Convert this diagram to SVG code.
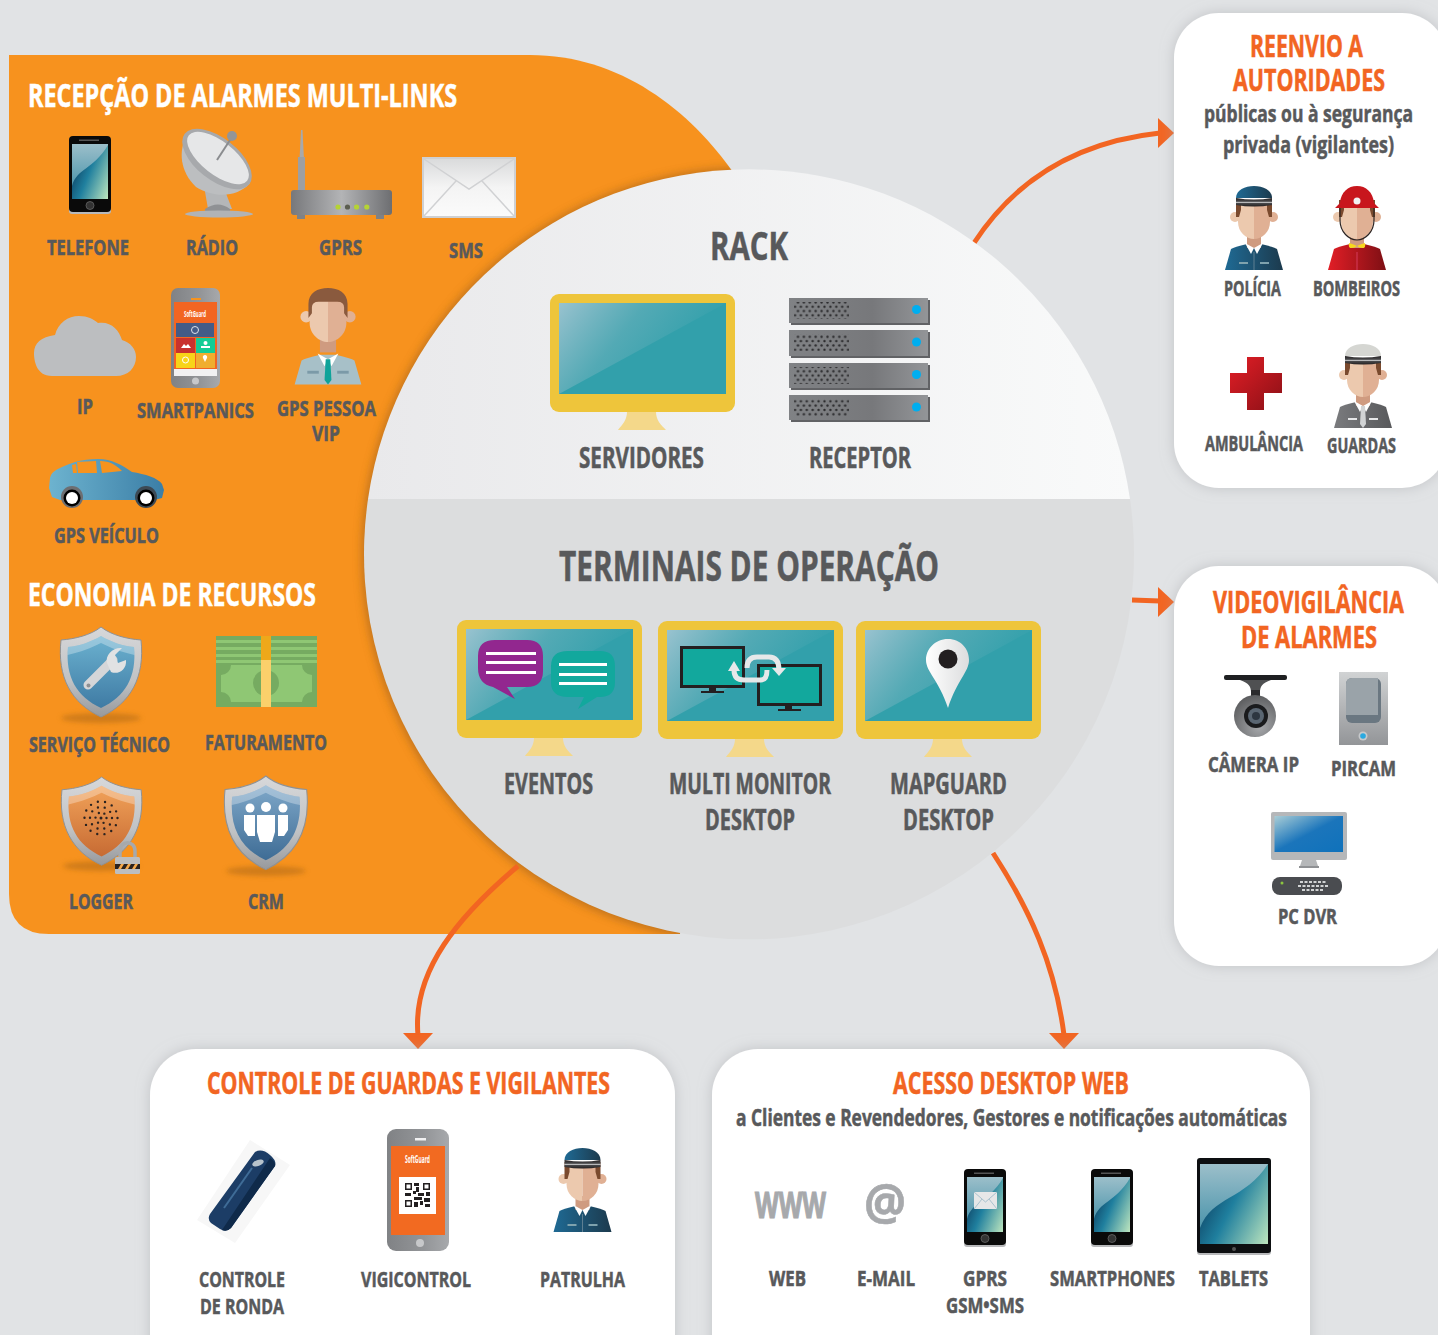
<svg xmlns="http://www.w3.org/2000/svg" width="1438" height="1335" viewBox="0 0 1438 1335">
<style>
text{font-family:"Open Sans","Liberation Sans",sans-serif;font-weight:700}
.g{fill:#58595b;stroke:#58595b;stroke-width:.55}
.o{fill:#f26522;stroke:#f26522;stroke-width:.55}
.w{fill:#fff;stroke:#fff;stroke-width:.55}
.s22{font-size:22px}.s21{font-size:21px}.s27{font-size:28px}.s24{font-size:24px}.s30{font-size:30px}.s33{font-size:33px}
.c{fill:none;stroke:#f26522;stroke-width:5}
.a{fill:#f26522}
.card{fill:#fff;filter:url(#cardS)}
</style>
<defs>
<filter id="cardS" x="-10%" y="-10%" width="120%" height="120%"><feDropShadow dx="0" dy="0" stdDeviation="7" flood-color="#a7a9ac" flood-opacity=".55"/></filter>
<linearGradient id="topG" x1="0" x2="1" y1="0" y2="0"><stop offset="0" stop-color="#e9e9eb"/><stop offset="1" stop-color="#f9fafa"/></linearGradient>
<linearGradient id="gloss" x1="0" x2=".8" y1="0" y2=".35"><stop offset="0" stop-color="#d8d8e6" stop-opacity=".62"/><stop offset=".55" stop-color="#c8ccd8" stop-opacity=".22"/><stop offset="1" stop-color="#c8ccd8" stop-opacity=".04"/></linearGradient>
<linearGradient id="scr1" x1="0" x2="0" y1="0" y2="1"><stop offset="0" stop-color="#9cbfca"/><stop offset=".6" stop-color="#5f9fb3"/><stop offset="1" stop-color="#3e8aa3"/></linearGradient>
<linearGradient id="scr2" x1="0" x2="1" y1=".35" y2=".95"><stop offset="0" stop-color="#0c3c5e"/><stop offset=".42" stop-color="#1f7f9e"/><stop offset="1" stop-color="#b8e2bd"/></linearGradient>
<linearGradient id="grey" x1="0" x2="1" y1="0" y2="0"><stop offset="0" stop-color="#77787b"/><stop offset=".5" stop-color="#b3b4b6"/><stop offset="1" stop-color="#6d6e71"/></linearGradient>
<linearGradient id="srv" x1="0" x2="1" y1="0" y2="0"><stop offset="0" stop-color="#808285"/><stop offset=".6" stop-color="#77787b"/><stop offset="1" stop-color="#939598"/></linearGradient>
<linearGradient id="phoneG" x1="0" x2="1" y1="0" y2="0"><stop offset="0" stop-color="#808285"/><stop offset=".6" stop-color="#939598"/><stop offset="1" stop-color="#a7a9ac"/></linearGradient>
<linearGradient id="env" x1="0" x2="0" y1="0" y2="1"><stop offset="0" stop-color="#d9dadb"/><stop offset=".5" stop-color="#f4f4f4"/><stop offset="1" stop-color="#fbfbfb"/></linearGradient>
<linearGradient id="car" x1="0" x2="1" y1="0" y2="0"><stop offset="0" stop-color="#6db3cf"/><stop offset="1" stop-color="#3b7ea6"/></linearGradient>
<linearGradient id="silver" x1="0" x2="0" y1="0" y2="1"><stop offset="0" stop-color="#d7d8da"/><stop offset=".6" stop-color="#c0c2c4"/><stop offset="1" stop-color="#97999c"/></linearGradient>
<linearGradient id="shB" x1="0" x2="0" y1="0" y2="1"><stop offset="0" stop-color="#6cb2d0"/><stop offset="1" stop-color="#3f7ba4"/></linearGradient>
<linearGradient id="shO" x1="0" x2="0" y1="0" y2="1"><stop offset="0" stop-color="#f2a35a"/><stop offset="1" stop-color="#c76b33"/></linearGradient>
<linearGradient id="shN" x1="0" x2="0" y1="0" y2="1"><stop offset="0" stop-color="#7fa8c9"/><stop offset="1" stop-color="#3e6c95"/></linearGradient>
<linearGradient id="navy" x1="0" x2="1" y1="0" y2="0"><stop offset="0" stop-color="#1f6a94"/><stop offset="1" stop-color="#1c3a4d"/></linearGradient>
<linearGradient id="red" x1="0" x2="1" y1="0" y2="0"><stop offset="0" stop-color="#e21e26"/><stop offset="1" stop-color="#7e0f14"/></linearGradient>
<linearGradient id="redD" x1="0" x2="1" y1="0" y2="1"><stop offset="0" stop-color="#e21e26"/><stop offset="1" stop-color="#8a1016"/></linearGradient>
<linearGradient id="dgrey" x1="0" x2="1" y1="0" y2="0"><stop offset="0" stop-color="#7a7b7e"/><stop offset="1" stop-color="#58595b"/></linearGradient>
<linearGradient id="band" x1="0" x2="0" y1="0" y2="1"><stop offset="0" stop-color="#231f20"/><stop offset=".4" stop-color="#4a4a4c"/><stop offset=".5" stop-color="#e6e7e8"/><stop offset=".6" stop-color="#4a4a4c"/><stop offset="1" stop-color="#231f20"/></linearGradient>
<linearGradient id="pir" x1="0" x2="0" y1="0" y2="1"><stop offset="0" stop-color="#d1d3d4"/><stop offset="1" stop-color="#939598"/></linearGradient>
<linearGradient id="blueS" x1="0" x2="1" y1="0" y2="1"><stop offset="0" stop-color="#a9cdd6"/><stop offset=".5" stop-color="#1b75bb"/><stop offset="1" stop-color="#0f72bb"/></linearGradient>
<linearGradient id="pin" x1="0" x2="1" y1="0" y2="0"><stop offset="0" stop-color="#fff"/><stop offset="1" stop-color="#dcddde"/></linearGradient>
<radialGradient id="camG" cx=".6" cy=".75" r=".8"><stop offset="0" stop-color="#a7a9ac"/><stop offset="1" stop-color="#58595b"/></radialGradient>
<filter id="blur4" x="-5%" y="-5%" width="110%" height="110%"><feGaussianBlur stdDeviation="5"/></filter>
<filter id="blur2" x="-30%" y="-100%" width="160%" height="300%"><feGaussianBlur stdDeviation="2.500"/></filter>
<clipPath id="orangeClip"><path d="M9,55H530C620,55 690,110 735,175L680,934H49Q9,934 9,894Z"/></clipPath>
<pattern id="holes" width="5.900" height="8.600" patternUnits="userSpaceOnUse"><circle cx="1.500" cy="1.500" r="1.200" fill="#2b2b2d"/><circle cx="4.400" cy="5.800" r="1.200" fill="#2b2b2d"/></pattern>

<g id="mon">
<path d="M77,118C77,126 72,131 68,136H116C111,131 106,126 106,118Z" fill="#f4d88a"/>
<rect width="185" height="118" rx="9" fill="#eec53b"/>
<rect x="9" y="9" width="167" height="91" fill="#32a0ab"/>
<polygon points="9,9 176,9 9,100" fill="url(#gloss)"/>
</g>

<g id="phone">
<rect x="0" y="1" width="42" height="77" rx="3" fill="#b8b9bb"/>
<rect x="0" y="0" width="42" height="76" rx="4" fill="#0a0a0a"/>
<rect x="3" y="8" width="36" height="55" fill="url(#scr1)"/>
<path d="M3,63V50C8,32 24,34 39,9V63Z" fill="url(#scr2)"/>
<rect x="10" y="3.500" width="20" height="1.500" fill="#555"/>
<circle cx="21" cy="69.500" r="4" fill="#333" stroke="#666" stroke-width=".8"/>
</g>

<g id="head">
<rect x="-7" y="48" width="14" height="14" fill="#cf9b80"/>
<circle cx="-19" cy="31" r="5" fill="#ecc9ae"/><circle cx="19" cy="31" r="5" fill="#e0b094"/>
<path d="M0,16H-16V36C-16,46 -8,53 0,53Z" fill="#ecc9ae"/>
<path d="M0,16H16V36C16,46 8,53 0,53Z" fill="#e0b094"/>
</g>
<g id="hairS">
<path d="M-18,14H-13V24L-15,31H-18Z" fill="#7a4a2e"/><path d="M18,14H13V24L15,31H18Z" fill="#7a4a2e"/>
</g>
<path id="body" d="M-29,84L-23,63Q-20,61 -7,58H7Q20,61 23,63L29,84Z"/>
<g id="collar"><path d="M-9,57L0,62L-3,68Z" fill="#fff"/><path d="M9,57L0,62L3,68Z" fill="#fff"/></g>
<g id="capBand"><path d="M-18,12Q0,15 18,12V19Q0,22 -18,19Z" fill="url(#band)"/></g>

<g id="shield">
<path d="M42,0C52,8 68,12 82,13C86,50 72,76 42,90C12,76 -2,50 2,13C16,12 32,8 42,0Z" fill="url(#silver)" stroke="#8f9194" stroke-width="1"/>
</g>
<path id="shieldIn" d="M42,9C52,15 64,19 75,20C78,50 66,70 42,81C18,70 6,50 9,20C20,19 32,15 42,9Z"/>
<path id="shieldHi" d="M42,9C52,15 64,19 75,20L75.500,28C62,25 52,21 42,16C32,21 22,25 8.500,28L9,20C20,19 32,15 42,9Z" fill="#fff" opacity=".3"/>
</defs>

<rect width="1438" height="1335" fill="#e1e3e5"/>

<g id="panel-recepcao"><path d="M9,55H530C620,55 690,110 735,175L680,934H49Q9,934 9,894Z" fill="#f7921e"/></g>

<g id="panel-shadow" clip-path="url(#orangeClip)"><circle cx="749" cy="555" r="387" fill="#a9661a" opacity=".75" filter="url(#blur4)"/></g>

<g id="connectors">
<path class="c" d="M974,243C1015,180 1075,142 1160,133"/>
<polygon class="a" points="1158,118 1174,133 1158,148"/>
<path class="c" d="M1132,600L1160,601"/>
<polygon class="a" points="1158,587 1174,602 1158,617"/>
<path class="c" d="M518,866C460,915 412,970 418,1035"/>
<polygon class="a" points="403,1033 433,1033 418,1049"/>
<path class="c" d="M993,853C1030,910 1055,965 1064,1035"/>
<polygon class="a" points="1049,1033 1079,1033 1064,1049"/>
</g>

<g id="circle">
<path d="M368,499A385,385 0 0 1 1130,499Z" fill="url(#topG)"/>
<path d="M368,499A385,385 0 1 0 1130,499Z" fill="#dcddde"/>
</g>

<text class="w s33" transform="translate(28,107) scale(.68,1)" textLength="631" lengthAdjust="spacingAndGlyphs">RECEPÇÃO DE ALARMES MULTI-LINKS</text>

<g id="telefone"><use href="#phone" x="69" y="136"/><text class="g s22" transform="translate(47,255) scale(.68,1)" textLength="120.600" lengthAdjust="spacingAndGlyphs">TELEFONE</text></g>

<g id="radio">
<path d="M203,180L208,209H232L222,183Z" fill="#b4b6b8"/>
<path d="M205,209Q218,200 230,209V213H205Z" fill="#8f9194"/>
<ellipse cx="219" cy="214" rx="34" ry="3.500" fill="#b1b3b5"/>
<path d="M187,136C178,150 180,172 196,187C212,197 236,199 250,183Z" fill="#bcbec0"/>
<ellipse cx="217" cy="159" rx="41" ry="21" transform="rotate(38 217 159)" fill="#a7a9ac"/>
<ellipse cx="218" cy="158" rx="37" ry="16.500" transform="rotate(38 218 158)" fill="#e6e7e8"/>
<path d="M217,160L232,137" stroke="#8a8c8f" stroke-width="2"/><circle cx="232" cy="136" r="5" fill="#939598"/>
<text class="g s22" transform="translate(186,255) scale(.68,1)" textLength="76.500" lengthAdjust="spacingAndGlyphs">RÁDIO</text></g>

<g id="gprs">
<polygon points="299.500,160 301,130 302.500,130 304,160" fill="#a7a9ac"/>
<rect x="298" y="157" width="7" height="33" fill="#9d9fa2"/>
<rect x="297" y="214" width="8" height="5" fill="#808285"/><rect x="376" y="214" width="8" height="5" fill="#808285"/>
<rect x="291" y="190" width="101" height="25" rx="3" fill="url(#grey)"/>
<circle cx="338" cy="207" r="2.600" fill="#b5d334"/><circle cx="347.500" cy="207" r="2.600" fill="#5c5e50"/><circle cx="356.600" cy="207" r="2.600" fill="#b5d334"/><circle cx="366.800" cy="207" r="2.600" fill="#b5d334"/>
<text class="g s22" transform="translate(319,255) scale(.68,1)" textLength="63.200" lengthAdjust="spacingAndGlyphs">GPRS</text></g>

<g id="sms">
<rect x="423" y="158" width="92" height="59" fill="url(#env)" stroke="#cfd0d2" stroke-width="2"/>
<path d="M424,159L469,189L514,159M424,216L456,181M514,216L482,181" fill="none" stroke="#d0d1d3" stroke-width="1.500"/>
<text class="g s22" transform="translate(449,258) scale(.68,1)" textLength="50" lengthAdjust="spacingAndGlyphs">SMS</text></g>

<g id="ip">
<path d="M52,376C36,376 34,360 34,353C34,343 41,337 55,335C58,323 68,316 79,316C88,316 93,319 98,323C111,321 119,330 122,340C131,343 136,349 136,357C136,368 128,376 116,376Z" fill="#bcbec0"/>
<text class="g s22" transform="translate(77,414) scale(.68,1)" textLength="23.500" lengthAdjust="spacingAndGlyphs">IP</text></g>

<g id="smartpanics">
<rect x="171" y="288" width="49" height="100" rx="7" fill="url(#phoneG)"/>
<rect x="191" y="298" width="10" height="2" fill="#f7931e"/>
<rect x="174" y="302" width="43" height="74" fill="#f26522"/>
<text transform="translate(184,317) scale(.5,1)" font-size="9" textLength="44" lengthAdjust="spacingAndGlyphs" fill="#fff">SoftGuard</text>
<rect x="176" y="323" width="38" height="14" fill="#435b87"/>
<circle cx="195" cy="330" r="3.500" fill="none" stroke="#dfe3ea" stroke-width="1"/>
<rect x="176" y="338" width="19" height="15" fill="#c8322e"/>
<rect x="196" y="338" width="19" height="15" fill="#12cc96"/>
<rect x="176" y="353" width="19" height="15" fill="#f8d418"/>
<rect x="196" y="353" width="19" height="15" fill="#f0ae2f"/>
<g fill="#fff"><path d="M181,348l3,-4 2,2 2,-2 3,4Z"/><circle cx="205.500" cy="343" r="2"/><rect x="201" y="346" width="9" height="2"/><circle cx="185.500" cy="360" r="3" fill="none" stroke="#fff"/><path d="M205,362l-2,-4a2.200,2.200 0 1 1 4,0Z"/></g>
<rect x="174" y="369" width="43" height="7" fill="#f1f1f2"/>
<circle cx="195.500" cy="381" r="3.500" fill="#c7c8ca"/>
<text class="g s22" transform="translate(137,418) scale(.68,1)" textLength="172" lengthAdjust="spacingAndGlyphs">SMARTPANICS</text></g>

<g id="gps-pessoa">
<g transform="translate(328,288) scale(1.15)">
<use href="#head" y="-6"/>
<path d="M-17,26V14C-17,4 -9,0 0,0C9,0 17,4 17,14V26L14,22V17Q14,12 8,12H-8Q-14,12 -14,17V22Z" fill="#8a5a3e"/>
<use href="#body" fill="#a7c0c8"/>
<use href="#collar"/>
<path d="M-2,62H2L3,80L0,84L-3,80Z" fill="#0fa39a"/>
<rect x="-18" y="72" width="10" height="2.500" fill="#7b9aa8"/><rect x="8" y="72" width="10" height="2.500" fill="#7b9aa8"/>
</g>
<text class="g s22" transform="translate(277,416) scale(.68,1)" textLength="145.600" lengthAdjust="spacingAndGlyphs">GPS PESSOA</text>
<text class="g s22" transform="translate(312,441) scale(.68,1)" textLength="41.200" lengthAdjust="spacingAndGlyphs">VIP</text></g>

<g id="gps-veiculo">
<path d="M50,478C51,473 55,470 62,467C72,463 80,459 98,459C112,459 122,465 132,472C145,474 158,478 162,484L164,490L162,498L154,500H60L52,497L49,488Z" fill="url(#car)"/>
<path d="M77,462L96,461L97,473H78ZM100,461C110,461 116,465 122,471L102,473ZM72,465L76,464L77,473H73Z" fill="#f7931e"/>
<circle cx="72" cy="497" r="11" fill="#6d6e71"/><circle cx="146" cy="497" r="11" fill="#3d4a55"/>
<circle cx="72" cy="498" r="8.500" fill="#000"/><circle cx="146" cy="498" r="8.500" fill="#000"/>
<circle cx="72" cy="498" r="6" fill="#fff"/><circle cx="146" cy="498" r="6" fill="#fff"/>
<text class="g s22" transform="translate(54,543) scale(.68,1)" textLength="154.400" lengthAdjust="spacingAndGlyphs">GPS VEÍCULO</text></g>

<text class="w s33" transform="translate(28,606) scale(.68,1)" textLength="423.500" lengthAdjust="spacingAndGlyphs">ECONOMIA DE RECURSOS</text>

<g id="servico-tecnico">
<ellipse cx="101" cy="718" rx="40" ry="5" fill="#b66d16" opacity=".6" filter="url(#blur2)"/>
<g transform="translate(59,627)"><use href="#shield"/><use href="#shieldIn" fill="url(#shB)"/><use href="#shieldHi"/></g>
<path d="M88,685L113,660" stroke="#d5d6d8" stroke-width="9" stroke-linecap="round"/>
<path d="M107,663C105,655 113,647 122,648L115,655L118,663L126,660C127,670 118,675 111,672Z" fill="#e1e2e3"/>
<circle cx="88.500" cy="685.500" r="2" fill="#8d8f92"/>
<text class="g s22" transform="translate(29,752) scale(.68,1)" textLength="207.400" lengthAdjust="spacingAndGlyphs">SERVIÇO TÉCNICO</text></g>

<g id="faturamento">
<rect x="216" y="636" width="101" height="71" fill="#76ab61"/>
<rect x="216" y="640" width="101" height="3" fill="#8fc774"/><rect x="216" y="647" width="101" height="3" fill="#8fc774"/><rect x="216" y="654" width="101" height="3" fill="#8fc774"/>
<rect x="216" y="660" width="101" height="3" fill="#8fc774"/>
<rect x="221" y="665" width="91" height="37" fill="#8fc774"/>
<circle cx="266" cy="683" r="13" fill="#76ab61"/>
<path d="M221,665h10a10,10 0 0 1 -10,10ZM312,665h-10a10,10 0 0 0 10,10ZM221,702h10a10,10 0 0 0 -10,-10ZM312,702h-10a10,10 0 0 1 10,-10Z" fill="#76ab61"/>
<rect x="261" y="636" width="10" height="24" fill="#eea81a"/><rect x="261" y="660" width="10" height="47" fill="#fbd06b"/>
<text class="g s22" transform="translate(205,750) scale(.68,1)" textLength="179.400" lengthAdjust="spacingAndGlyphs">FATURAMENTO</text></g>

<g id="logger">
<ellipse cx="101" cy="866" rx="38" ry="5" fill="#b66d16" opacity=".6" filter="url(#blur2)"/>
<g transform="translate(60,777) scale(.99,.98)"><use href="#shield"/><use href="#shieldIn" fill="url(#shO)"/><use href="#shieldHi"/></g>
<g fill="none" stroke="#2b2320" stroke-width="2.400" stroke-linecap="round">
<circle cx="101" cy="818" r="5.500" stroke-dasharray="0 5.760"/>
<circle cx="101" cy="818" r="11" stroke-dasharray="0 6.910"/>
<circle cx="101" cy="818" r="16.500" stroke-dasharray="0 7.400"/>
</g><circle cx="101" cy="818" r="1.500" fill="#2b2320"/>
<path d="M120,858V851C120,840 135,840 135,851V858" fill="none" stroke="#a7a9ac" stroke-width="3.500"/>
<rect x="115" y="857" width="25" height="17" rx="1.500" fill="#bcbec0"/>
<rect x="115" y="864" width="25" height="5" fill="#2b2320"/>
<path d="M118,869l3,-5h3l-3,5ZM125,869l3,-5h3l-3,5ZM132,869l3,-5h3l-3,5Z" fill="#f5a94c"/>
<text class="g s22" transform="translate(69,909) scale(.68,1)" textLength="94.100" lengthAdjust="spacingAndGlyphs">LOGGER</text></g>

<g id="crm">
<ellipse cx="266" cy="871" rx="40" ry="5" fill="#b66d16" opacity=".6" filter="url(#blur2)"/>
<g transform="translate(223,776) scale(1.02,1.04)"><use href="#shield"/><use href="#shieldIn" fill="url(#shN)"/><use href="#shieldHi"/></g>
<g fill="#fff"><circle cx="250" cy="808" r="4.500"/><circle cx="266" cy="807" r="5"/><circle cx="283" cy="808" r="4.500"/>
<path d="M244,815H255V836H248L244,830Z"/><path d="M278,815H288V830L284,836H278Z"/><path d="M257,815H275V832L272,842H260L257,832Z"/></g>
<text class="g s22" transform="translate(248,909) scale(.68,1)" textLength="52.900" lengthAdjust="spacingAndGlyphs">CRM</text></g>

<text class="g" font-size="40" transform="translate(710,260) scale(.68,1)" textLength="114.700" lengthAdjust="spacingAndGlyphs">RACK</text>

<g id="servidores"><use href="#mon" x="550" y="294"/><text class="g s27" transform="translate(579,468) scale(.68,1)" textLength="183.800" lengthAdjust="spacingAndGlyphs">SERVIDORES</text></g>

<g id="receptor">
<g fill="#616265">
<rect x="791" y="300" width="139" height="25"/><rect x="791" y="332" width="139" height="26"/><rect x="791" y="365" width="139" height="25"/><rect x="791" y="397" width="139" height="25"/></g>
<g fill="url(#srv)">
<rect x="789" y="298" width="139" height="25"/><rect x="789" y="330" width="139" height="26"/><rect x="789" y="363" width="139" height="25"/><rect x="789" y="395" width="139" height="25"/></g>
<g fill="url(#holes)"><rect x="794" y="302" width="55" height="17"/><rect x="794" y="334" width="55" height="17"/><rect x="794" y="367" width="55" height="17"/><rect x="794" y="399" width="55" height="17"/></g>
<g fill="#00aeef"><circle cx="916.500" cy="309.500" r="4.500"/><circle cx="916.500" cy="342" r="4.500"/><circle cx="916.500" cy="374.500" r="4.500"/><circle cx="916.500" cy="407" r="4.500"/></g>
<text class="g s27" transform="translate(809,468) scale(.68,1)" textLength="150" lengthAdjust="spacingAndGlyphs">RECEPTOR</text></g>

<text class="g" font-size="42" transform="translate(559,581) scale(.68,1)" textLength="558.800" lengthAdjust="spacingAndGlyphs">TERMINAIS DE OPERAÇÃO</text>

<g id="eventos"><use href="#mon" x="457" y="620"/>
<path d="M495,640H527Q543,640 543,656V671Q543,687 527,687H507L515,699L493,687Q478,684 478,668V656Q478,640 495,640Z" fill="#92278f"/>
<path d="M568,651H600Q615,651 615,666V682Q615,697 600,697H597L578,709L584,697H568Q551,697 551,682V666Q551,651 568,651Z" fill="#12a89d"/>
<g fill="#fff"><rect x="486" y="652" width="50" height="3"/><rect x="486" y="661" width="50" height="3"/><rect x="486" y="671" width="50" height="3"/><rect x="559" y="663" width="48" height="3"/><rect x="559" y="673" width="48" height="3"/><rect x="559" y="682" width="48" height="3"/></g>
<text class="g s27" transform="translate(504,794) scale(.68,1)" textLength="130.900" lengthAdjust="spacingAndGlyphs">EVENTOS</text></g>

<g id="multi-monitor"><use href="#mon" x="658" y="621"/>
<g fill="#12a89d" stroke="#231f20" stroke-width="3"><rect x="681.500" y="647.500" width="62" height="39"/><rect x="758.500" y="665.500" width="62" height="39"/></g>
<g fill="#231f20"><rect x="709" y="688" width="7" height="4"/><rect x="701" y="691" width="23" height="2"/><rect x="785" y="706" width="7" height="4"/><rect x="778" y="709" width="23" height="2"/></g>
<g fill="none" stroke="#e6e8e9" stroke-width="5"><path d="M734,670Q734,680 744,680H761Q767,680 767,670"/><path d="M747,668Q747,657 757,657H769Q779,657 779,670"/></g>
<g fill="#e6e8e9"><polygon points="734,661 728,671 740,671"/><polygon points="779,676 772,668 786,668"/></g>
<text class="g s27" transform="translate(669,794) scale(.68,1)" textLength="238.200" lengthAdjust="spacingAndGlyphs">MULTI MONITOR</text>
<text class="g s27" transform="translate(705,830) scale(.68,1)" textLength="132.400" lengthAdjust="spacingAndGlyphs">DESKTOP</text></g>

<g id="mapguard"><use href="#mon" x="856" y="621"/>
<path d="M948,639C961,639 969,649 969,660C969,672 957,680 948,708C939,680 926,672 926,660C926,649 935,639 948,639Z" fill="url(#pin)"/>
<ellipse cx="948" cy="659" rx="9.500" ry="9.500" fill="#231f20"/>
<text class="g s27" transform="translate(890,794) scale(.68,1)" textLength="172" lengthAdjust="spacingAndGlyphs">MAPGUARD</text>
<text class="g s27" transform="translate(903,830) scale(.68,1)" textLength="133.800" lengthAdjust="spacingAndGlyphs">DESKTOP</text></g>

<g id="reenvio">
<rect class="card" x="1174" y="13" width="273" height="475" rx="45"/>
<text class="o s30" transform="translate(1250,57) scale(.68,1)" textLength="166.200" lengthAdjust="spacingAndGlyphs">REENVIO A</text>
<text class="o s30" transform="translate(1233,91) scale(.68,1)" textLength="223.500" lengthAdjust="spacingAndGlyphs">AUTORIDADES</text>
<text class="g s24" transform="translate(1204,122) scale(.68,1)" textLength="307.400" lengthAdjust="spacingAndGlyphs">públicas ou à segurança</text>
<text class="g s24" transform="translate(1223,153) scale(.68,1)" textLength="251.500" lengthAdjust="spacingAndGlyphs">privada (vigilantes)</text>
</g>

<g id="policia"><g transform="translate(1254,186)">
<use href="#body" fill="url(#navy)"/><use href="#head"/><use href="#hairS"/><use href="#collar"/>
<path d="M0,66V84" stroke="#6e8b9b" stroke-width=".8"/><rect x="-15" y="76" width="9" height="2" fill="#7fa2ad"/><rect x="6" y="76" width="9" height="2" fill="#7fa2ad"/>
<path d="M-18,12C-18,4 -9,0 0,0C9,0 18,4 18,12Z" fill="url(#navy)"/><use href="#capBand"/>
</g><text class="g s21" transform="translate(1224,296) scale(.68,1)" textLength="83.800" lengthAdjust="spacingAndGlyphs">POLÍCIA</text></g>

<g id="bombeiros"><g transform="translate(1357,186)">
<use href="#body" fill="url(#red)"/><use href="#head"/><use href="#hairS"/>
<path d="M-17,20V34C-17,46 -8,54 0,54C8,54 17,46 17,34V20" fill="none" stroke="#2b2320" stroke-width="1.200"/>
<path d="M-8,57Q-4,58 0,60Q4,58 8,57Q9,62 6,62Q2,62 0,60Q-2,62 -6,62Q-9,62 -8,57Z" fill="#f9d81d"/>
<path d="M-22,22L-17,17C-16,6 -9,0 0,0C9,0 16,6 17,17L22,22Z" fill="#c8161d"/>
<circle cx="0" cy="15" r="3.500" fill="#f1f1f2"/>
<path d="M0,66V84" stroke="#e58" stroke-width=".6"/>
</g><text class="g s21" transform="translate(1313,296) scale(.68,1)" textLength="127.900" lengthAdjust="spacingAndGlyphs">BOMBEIROS</text></g>

<g id="ambulancia">
<path d="M1247,357H1264V373H1282V393H1264V410H1247V393H1230V373H1247Z" fill="url(#redD)"/>
<text class="g s21" transform="translate(1205,451) scale(.68,1)" textLength="144.100" lengthAdjust="spacingAndGlyphs">AMBULÂNCIA</text></g>

<g id="guardas"><g transform="translate(1363,344)">
<use href="#body" fill="url(#dgrey)"/><use href="#head"/><use href="#hairS"/><use href="#collar"/>
<path d="M-2,62H2L3,80L0,84L-3,80Z" fill="#d1d3d4"/><rect x="-15" y="74" width="9" height="2" fill="#e6e7e8"/><rect x="6" y="74" width="9" height="2" fill="#e6e7e8"/>
<path d="M-18,12C-18,4 -9,0 0,0C9,0 18,4 18,12Z" fill="#d5d6d2"/><use href="#capBand"/>
</g><text class="g s21" transform="translate(1327,453) scale(.68,1)" textLength="101.500" lengthAdjust="spacingAndGlyphs">GUARDAS</text></g>

<g id="videovigilancia">
<rect class="card" x="1174" y="566" width="273" height="400" rx="45"/>
<text class="o s30" transform="translate(1213,613) scale(.68,1)" textLength="280.900" lengthAdjust="spacingAndGlyphs">VIDEOVIGILÂNCIA</text>
<text class="o s30" transform="translate(1241,648) scale(.68,1)" textLength="200" lengthAdjust="spacingAndGlyphs">DE ALARMES</text>
</g>

<g id="camera-ip">
<rect x="1224" y="675" width="63" height="5" rx="2" fill="#1f2022"/>
<path d="M1240,680H1271C1262,683 1260,687 1260,692H1251C1251,687 1249,683 1240,680Z" fill="#4f5052"/><rect x="1251" y="690" width="9" height="6" fill="#2b2b2d"/>
<circle cx="1255" cy="716" r="21" fill="url(#camG)"/>
<circle cx="1256" cy="716" r="12" fill="#1a1b1d"/><circle cx="1256" cy="716" r="8" fill="#5a6672"/><circle cx="1256" cy="716" r="4" fill="#2d3640"/>
<text class="g s22" transform="translate(1208,772) scale(.68,1)" textLength="133.800" lengthAdjust="spacingAndGlyphs">CÂMERA IP</text></g>

<g id="pircam">
<rect x="1339" y="672" width="49" height="73" fill="url(#pir)"/>
<rect x="1346" y="678" width="35" height="45" rx="6" fill="#6a7781"/>
<path d="M1346,715V684Q1346,678 1352,678H1378V715Z" fill="#9aa3a9"/>
<circle cx="1363" cy="736" r="4.500" fill="#c7c9cb"/><circle cx="1363" cy="736" r="2.800" fill="#2aa9e0"/>
<text class="g s22" transform="translate(1331,776) scale(.68,1)" textLength="95.600" lengthAdjust="spacingAndGlyphs">PIRCAM</text></g>

<g id="pc-dvr">
<rect x="1271" y="812" width="76" height="48" rx="2" fill="#b5b7b9"/>
<rect x="1274.500" y="816" width="68.500" height="36" fill="url(#blueS)"/>
<path d="M1302,860H1316L1318,866H1300Z" fill="#b5b7b9"/><rect x="1299" y="866" width="20" height="2" fill="#8f9194"/>
<rect x="1272" y="877" width="70" height="18" rx="8" fill="#4a4c50"/>
<circle cx="1282" cy="883" r="1.500" fill="#8dc63f"/>
<g stroke="#d1d3d4" stroke-width="2" stroke-dasharray="3 1.500"><path d="M1300,882H1326M1298,886H1328M1302,890H1324"/></g>
<text class="g s22" transform="translate(1278,924) scale(.68,1)" textLength="86.800" lengthAdjust="spacingAndGlyphs">PC DVR</text></g>

<g id="controle-guardas">
<rect class="card" x="150" y="1049" width="525" height="340" rx="46"/>
<text class="o s30" transform="translate(207,1094) scale(.68,1)" textLength="592.600" lengthAdjust="spacingAndGlyphs">CONTROLE DE GUARDAS E VIGILANTES</text>
</g>

<g id="controle-ronda">
<path d="M197,1220L250,1140L290,1165L235,1243Z" fill="#f7f7f7"/>
<path d="M255,1152Q262,1148 270,1155Q277,1161 275,1166L231,1228Q226,1233 220,1229L211,1223Q207,1219 210,1214Z" fill="#1c3d66"/>
<path d="M270,1158Q276,1162 275,1166L231,1228Q227,1232 222,1230Z" fill="#0f2a4a"/>
<path d="M252,1168L224,1208" stroke="#3f6c97" stroke-width="2"/>
<ellipse cx="258" cy="1163" rx="6" ry="3" transform="rotate(-20 258 1163)" fill="#b7c3cc"/>
<text class="g s22" transform="translate(199,1287) scale(.68,1)" textLength="126.500" lengthAdjust="spacingAndGlyphs">CONTROLE</text>
<text class="g s22" transform="translate(200,1314) scale(.68,1)" textLength="123.500" lengthAdjust="spacingAndGlyphs">DE RONDA</text></g>

<g id="vigicontrol">
<rect x="387" y="1129" width="62" height="122" rx="9" fill="url(#phoneG)"/>
<rect x="415" y="1138" width="11" height="2.500" fill="#f1f1f2"/>
<rect x="391" y="1146" width="54" height="89" fill="#f26a21"/>
<text transform="translate(405,1163) scale(.5,1)" font-size="10" textLength="50" lengthAdjust="spacingAndGlyphs" fill="#fff">SoftGuard</text>
<rect x="399" y="1177" width="37" height="37" fill="#fff"/>
<path fill="#231f20" fill-rule="evenodd" d="M405,1183h7v7h-7zM406.500,1184.500v4h4v-4zM423,1183h7v7h-7zM424.500,1184.500v4h4v-4zM405,1200h7v7h-7zM406.500,1201.500v4h4v-4zM414,1183h5v3h-5zM416,1187h3v5h-3zM413,1191h3v3h-3zM405,1193h6v3h-6zM418,1193h6v3h-6zM426,1192h4v4h-4zM414,1197h8v3h-8zM424,1198h6v4h-6zM414,1202h4v5h-4zM420,1201h3v4h-3zM425,1204h5v3h-5z"/>
<circle cx="420" cy="1243" r="4" fill="#c7c8ca"/>
<text class="g s22" transform="translate(361,1287) scale(.68,1)" textLength="161.800" lengthAdjust="spacingAndGlyphs">VIGICONTROL</text></g>

<g id="patrulha"><g transform="translate(582.500,1148)">
<use href="#body" fill="url(#navy)"/><use href="#head"/><use href="#hairS"/><use href="#collar"/>
<path d="M0,66V84" stroke="#6e8b9b" stroke-width=".8"/><rect x="-15" y="76" width="9" height="2" fill="#7fa2ad"/><rect x="6" y="76" width="9" height="2" fill="#7fa2ad"/>
<path d="M-18,12C-18,4 -9,0 0,0C9,0 18,4 18,12Z" fill="url(#navy)"/><use href="#capBand"/>
</g><text class="g s22" transform="translate(540,1287) scale(.68,1)" textLength="125" lengthAdjust="spacingAndGlyphs">PATRULHA</text></g>

<g id="acesso">
<rect class="card" x="712" y="1049" width="598" height="340" rx="46"/>
<text class="o s30" transform="translate(893,1094) scale(.68,1)" textLength="347" lengthAdjust="spacingAndGlyphs">ACESSO DESKTOP WEB</text>
<text class="g s24" transform="translate(736,1126) scale(.68,1)" textLength="810.300" lengthAdjust="spacingAndGlyphs">a Clientes e Revendedores, Gestores e notificações automáticas</text>
</g>

<g id="web"><text font-size="36" fill="#a7a9ac" stroke="#a7a9ac" stroke-width="1.200" transform="translate(755,1218) scale(.68,1)" textLength="104.400" lengthAdjust="spacingAndGlyphs">WWW</text>
<text class="g s22" transform="translate(769,1286) scale(.68,1)" textLength="54.400" lengthAdjust="spacingAndGlyphs">WEB</text></g>
<g id="email"><text font-size="50" fill="#a7a9ac" stroke="#a7a9ac" stroke-width=".6" x="864" y="1220" textLength="42" lengthAdjust="spacingAndGlyphs">@</text>
<text class="g s22" transform="translate(857,1286) scale(.68,1)" textLength="85.300" lengthAdjust="spacingAndGlyphs">E-MAIL</text></g>
<g id="gprs-sms"><use href="#phone" x="964" y="1169"/>
<rect x="974" y="1192" width="23" height="17" fill="#e6e7e8"/><path d="M974,1192L985.500,1202L997,1192M974,1209L982,1199M997,1209L989,1199" fill="none" stroke="#a9c2ce" stroke-width="1"/>
<text class="g s22" transform="translate(963,1286) scale(.68,1)" textLength="64.700" lengthAdjust="spacingAndGlyphs">GPRS</text>
<text class="g s22" transform="translate(946,1313) scale(.68,1)" textLength="114.700" lengthAdjust="spacingAndGlyphs">GSM•SMS</text></g>
<g id="smartphones"><use href="#phone" x="1091" y="1169"/>
<text class="g s22" transform="translate(1050,1286) scale(.68,1)" textLength="183.800" lengthAdjust="spacingAndGlyphs">SMARTPHONES</text></g>
<g id="tablets">
<rect x="1197" y="1159" width="74" height="96" rx="3" fill="#b8b9bb"/>
<rect x="1197" y="1158" width="74" height="95" rx="3" fill="#0d0f11"/>
<rect x="1200" y="1164" width="68" height="80" fill="url(#scr1)"/>
<path d="M1200,1244V1228C1212,1196 1245,1200 1268,1164V1244Z" fill="url(#scr2)"/>
<circle cx="1234" cy="1249" r="2" fill="#555"/>
<text class="g s22" transform="translate(1199,1286) scale(.68,1)" textLength="101.500" lengthAdjust="spacingAndGlyphs">TABLETS</text></g>
</svg>
